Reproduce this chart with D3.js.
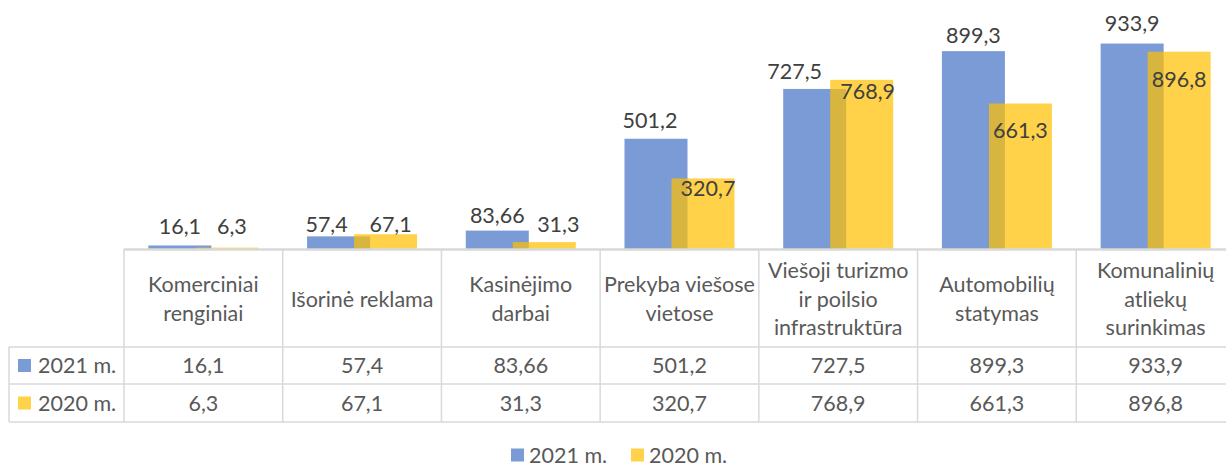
<!DOCTYPE html>
<html><head><meta charset="utf-8">
<script src="https://cdn.jsdelivr.net/npm/d3@7"></script>
<style>html,body{margin:0;padding:0;background:#fff;}svg{display:block;}</style>
</head><body>
<svg id="c" width="1226" height="468"></svg>
<script>
// ---- data ----
const categoryLines = [
  ["Komerciniai","renginiai"],
  ["Išorinė reklama"],
  ["Kasinėjimo","darbai"],
  ["Prekyba viešose","vietose"],
  ["Viešoji turizmo","ir poilsio","infrastruktūra"],
  ["Automobilių","statymas"],
  ["Komunalinių","atliekų","surinkimas"]
];
const categories = categoryLines.map(l => l.join(" "));
const seriesNames = ["2021 m.", "2020 m."];
const values2021 = [16.1, 57.4, 83.66, 501.2, 727.5, 899.3, 933.9];
const values2020 = [6.3, 67.1, 31.3, 320.7, 768.9, 661.3, 896.8];
const yDomain = [0, 1000];

// ---- style / layout config ----
const colors = ["#4472C4", "#FFC000"];
const barOpacity = 0.71;
// label nudges (px), as placed in the original chart
const labelDx = [[0,-12,0,-6,-20,0,0],[5,5,14,5,6,0,0]];
const labelDy = [[-19,-12,-15,-18,-17,-16,-20],[-21,-10,-18,10,12,27,28]];

const W = 1226, H = 468;
const plotLeft = 124, plotRight = 1235, baseY = 249, topY = 29;
const headerBottom = 347, row1Bottom = 384, row2Bottom = 422, labelColLeft = 9;
const font = "Lato, 'Open Sans', sans-serif";
const fs = 21.5;
const textColor = "#595959", labelColor = "#404040", gridColor = "#D9D9D9";

const svg = d3.select("#c");
const series = [values2021, values2020];

const x = d3.scaleBand().domain(categories).range([plotLeft, plotRight]).paddingInner(0).paddingOuter(0);
const barW = x.bandwidth() * 0.397;
const xs = d3.scalePoint().domain(seriesNames).range([-barW*0.373, barW*0.373]);
const y = d3.scaleLinear().domain(yDomain).range([baseY, topY]);

// bars
series.forEach((vals, si) => {
  svg.append("g").selectAll("rect").data(vals).join("rect")
    .attr("x", (d,i) => x(categories[i]) + x.bandwidth()/2 + xs(seriesNames[si]) - barW/2)
    .attr("y", d => y(d))
    .attr("width", barW)
    .attr("height", d => y(0) - y(d))
    .attr("fill", colors[si])
    .attr("fill-opacity", barOpacity);
});

const fmt = v => String(v).replace(".", ",");

// data labels
series.forEach((vals, si) => {
  svg.append("g").selectAll("text").data(vals).join("text")
    .attr("x", (d,i) => x(categories[i]) + x.bandwidth()/2 + xs(seriesNames[si]) + labelDx[si][i])
    .attr("y", (d,i) => y(d) + labelDy[si][i])
    .attr("dy", "0.35em")
    .attr("text-anchor", "middle")
    .attr("font-family", font).attr("font-size", fs)
    .attr("fill", labelColor)
    .text(d => fmt(d));
});

// table grid
const g = svg.append("g").attr("stroke", gridColor).attr("stroke-width", 1.5).attr("fill", "none");
g.append("line").attr("x1", plotLeft).attr("x2", plotRight).attr("y1", baseY+0.5).attr("y2", baseY+0.5).attr("stroke-width", 2.5);
[headerBottom, row1Bottom, row2Bottom].forEach(yy => {
  g.append("line").attr("x1", labelColLeft).attr("x2", plotRight).attr("y1", yy).attr("y2", yy);
});
g.append("line").attr("x1", labelColLeft).attr("x2", labelColLeft).attr("y1", headerBottom).attr("y2", row2Bottom);
const vx = categories.map(c => x(c)).concat([plotRight]);
g.selectAll("line.v").data(vx).join("line").attr("class","v")
  .attr("x1", d => d).attr("x2", d => d).attr("y1", baseY).attr("y2", row2Bottom);

// header text
const lh = 28.5;
const hg = svg.append("g").attr("font-family", font).attr("font-size", fs).attr("fill", textColor).attr("text-anchor", "middle");
categoryLines.forEach((lines, i) => {
  const cx = x(categories[i]) + x.bandwidth()/2;
  const cy = 299;
  lines.forEach((ln, j) => {
    hg.append("text").attr("x", cx).attr("y", cy + (j - (lines.length-1)/2)*lh).attr("dy","0.35em").text(ln);
  });
});

// data rows
const rowY = [(headerBottom+row1Bottom)/2, (row1Bottom+row2Bottom)/2];
series.forEach((vals, si) => {
  svg.append("rect").attr("x", 18).attr("y", rowY[si]-6.5).attr("width", 13).attr("height", 13).attr("fill", colors[si]).attr("fill-opacity", barOpacity);
  svg.append("text").attr("x", 38).attr("y", rowY[si]).attr("dy","0.35em")
    .attr("font-family", font).attr("font-size", fs).attr("fill", textColor).text(seriesNames[si]);
  svg.append("g").selectAll("text").data(vals).join("text")
    .attr("x", (d,i) => x(categories[i]) + x.bandwidth()/2)
    .attr("y", rowY[si]).attr("dy","0.35em").attr("text-anchor","middle")
    .attr("font-family", font).attr("font-size", fs).attr("fill", textColor)
    .text(d => fmt(d));
});

// legend
const legY = 455;
const legX = [511, 631];
seriesNames.forEach((s, si) => {
  svg.append("rect").attr("x", legX[si]).attr("y", legY-6.5).attr("width", 13).attr("height", 13).attr("fill", colors[si]).attr("fill-opacity", barOpacity);
  svg.append("text").attr("x", legX[si]+18).attr("y", legY).attr("dy","0.35em")
    .attr("font-family", font).attr("font-size", fs).attr("fill", textColor).text(s);
});
</script>
</body></html>
